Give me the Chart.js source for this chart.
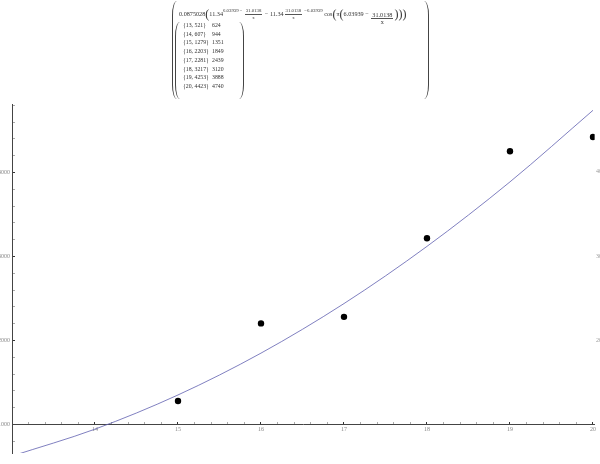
<!DOCTYPE html>
<html>
<head>
<meta charset="utf-8">
<script src="https://cdn.jsdelivr.net/npm/chart.js@4.4.0/dist/chart.umd.min.js"></script>
<style>
  html, body { margin: 0; padding: 0; background: #fff; }
  #wrap { position: relative; width: 600px; height: 464px; overflow: hidden; }
  #chart { position: absolute; left: 0; top: 0; }
  #fit { position: absolute; left: 171px; top: 0; width: 259px; height: 100px;
         font-family: 'Liberation Serif', serif; color: #333; }
  .paren { position: absolute; width: 4px; }
  .paren.l { border-left: 1px solid #444; border-radius: 5px 0 0 5px / 14px 0 0 14px; }
  .paren.r { border-right: 1px solid #444; border-radius: 0 5px 5px 0 / 0 14px 14px 0; }
  #row1 { position: absolute; left: 8px; top: 5px; font-size: 6.2px; white-space: nowrap; line-height: 12px; }
  sup { font-size: 4.8px; vertical-align: 4px; }
  .fr { display: inline-flex; flex-direction: column; align-items: center; vertical-align: -1px; line-height: 5.5px; margin: 0 1px; }
  sup .fr { vertical-align: 0px; }
  .fr > span:first-child { border-bottom: 0.5px solid #555; padding: 0 1px; }
  .big { font-size: 12px; vertical-align: -2px; }
  #rows { position: absolute; left: 12px; top: 21px; font-size: 5.8px; line-height: 8.7px; }
  .cell1 { display: inline-block; width: 29px; }
  .frag { position: absolute; left: 596px; font: 6px 'Liberation Serif', serif; color: #999; }
</style>
</head>
<body>
<div id="wrap">
  <canvas id="chart" width="600" height="464"></canvas>
  <div id="fit">
    <div class="paren l" style="left:1px; top:1px; height:98px;"></div>
    <div class="paren r" style="left:253px; top:1px; height:98px;"></div>
    <div id="row1">0.0875028<span class="big">(</span>11.34<sup>6.03939 &minus; <span class="fr"><span>31.0138</span><span>x</span></span></sup> &minus; 11.34<sup><span class="fr"><span>31.0138</span><span>x</span></span> &minus;6.03939</sup> cos<span class="big">(</span>&pi;<span class="big">(</span>6.03939 &minus; <span class="fr"><span>31.0138</span><span>x</span></span><span class="big">)</span><span class="big">)</span><span class="big">)</span></div>
    <div class="paren l" style="left:4px; top:22px; height:77px;"></div>
    <div class="paren r" style="left:68px; top:22px; height:77px;"></div>
    <div id="rows"></div>
  </div>
  <!-- cut-off labels of the neighbouring axis at the right edge -->
  <span class="frag" style="top:168px;">4000</span>
  <span class="frag" style="top:253px;">3000</span>
  <span class="frag" style="top:337px;">2000</span>
</div>
<script>
// values (table + plot)
const xs = [13, 14, 15, 16, 17, 18, 19, 20];
const observed = [521, 607, 1279, 2203, 2281, 3217, 4253, 4423];
const fitted = [624, 944, 1351, 1849, 2439, 3120, 3888, 4740];
const xTickLabels = [14, 15, 16, 17, 18, 19, 20];
const yTickLabels = [1000, 2000, 3000, 4000];

// table under the fit expression
document.getElementById('rows').innerHTML = xs.map((x, i) =>
    '<div><span class="cell1">{' + x + ', ' + observed[i] + '}</span>' + fitted[i] + '</div>'
).join('');

function isMajor(v, list) {
    const r = Math.round(v);
    return Math.abs(v - r) < 1e-6 && list.includes(r);
}

const tickFont = { family: 'Liberation Serif', size: 6 };

new Chart(document.getElementById('chart'), {
    type: 'scatter',
    data: {
        datasets: [{
            type: 'line',
            label: 'fit',
            data: xs.map((x, i) => ({ x: x, y: fitted[i] })),
            borderColor: '#5f5fb0',
            borderWidth: 0.8,
            pointRadius: 0,
            cubicInterpolationMode: 'monotone',
            fill: false,
            clip: 0
        }, {
            label: 'data',
            data: xs.map((x, i) => ({ x: x, y: observed[i] })),
            backgroundColor: '#000',
            borderWidth: 0,
            pointRadius: 3.2,
            clip: 0
        }]
    },
    options: {
        responsive: false,
        animation: false,
        layout: { padding: { top: 104, right: 4, bottom: 11, left: 0 } },
        plugins: { legend: { display: false }, tooltip: { enabled: false } },
        scales: {
            x: {
                type: 'linear',
                min: 13,
                max: 20.02,
                position: { y: 1000 },
                border: { color: '#444', width: 1 },
                grid: {
                    drawOnChartArea: false,
                    tickLength: -3,
                    tickColor: ctx => isMajor(ctx.tick.value, xTickLabels) ? '#333' : '#aaa'
                },
                ticks: {
                    stepSize: 0.2,
                    includeBounds: false,
                    autoSkip: false,
                    maxRotation: 0,
                    padding: 4,
                    color: '#888',
                    font: tickFont,
                    callback: v => isMajor(v, xTickLabels) ? String(Math.round(v)) : ''
                }
            },
            y: {
                position: 'left',
                min: 660,
                max: 4815,
                afterFit: s => { s.width = 12; },
                border: { color: '#444', width: 1 },
                grid: {
                    drawOnChartArea: false,
                    tickLength: -3,
                    tickColor: ctx => isMajor(ctx.tick.value, yTickLabels) ? '#333' : '#aaa'
                },
                ticks: {
                    stepSize: 200,
                    includeBounds: false,
                    autoSkip: false,
                    padding: 5,
                    color: '#888',
                    font: tickFont,
                    callback: v => isMajor(v, yTickLabels) ? String(Math.round(v)) : ''
                }
            }
        }
    }
});
</script>
</body>
</html>
